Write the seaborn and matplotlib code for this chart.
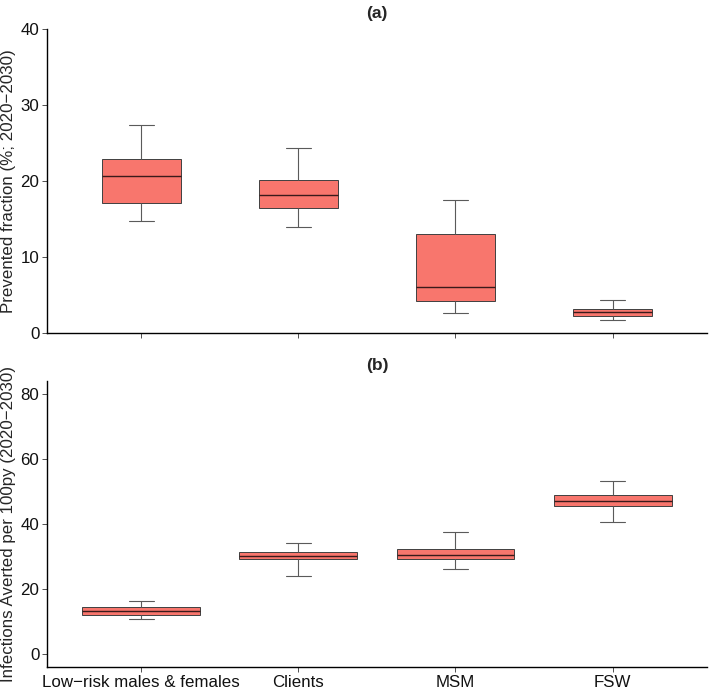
import pandas as pd
import matplotlib
matplotlib.use("Agg")
import matplotlib.pyplot as plt
import seaborn as sns

# Groups and five-number summaries (min, Q1, median, Q3, max)
groups = ["Low\u2212risk males & females", "Clients", "MSM", "FSW"]

prevented_low_risk = [14.7, 17.1, 20.6, 22.9, 27.4]
prevented_clients = [14.0, 16.5, 18.2, 20.1, 24.4]
prevented_msm = [2.6, 4.2, 6.1, 13.0, 17.5]
prevented_fsw = [1.7, 2.3, 2.8, 3.2, 4.3]

averted_low_risk = [10.7, 12.0, 13.2, 14.4, 16.4]
averted_clients = [24.0, 29.3, 30.3, 31.4, 34.2]
averted_msm = [26.2, 29.1, 30.6, 32.4, 37.6]
averted_fsw = [40.6, 45.4, 47.2, 48.9, 53.1]


def to_frame(series):
    rows = []
    for g, vals in zip(groups, series):
        for v in vals:
            rows.append({"group": g, "value": v})
    return pd.DataFrame(rows)


df_a = to_frame([prevented_low_risk, prevented_clients, prevented_msm, prevented_fsw])
df_b = to_frame([averted_low_risk, averted_clients, averted_msm, averted_fsw])

sns.set_style("white")
plt.rcParams["font.family"] = ["Liberation Sans", "DejaVu Sans"]

fig = plt.figure(figsize=(7.09, 6.92), dpi=100)
ax_a = fig.add_axes([0.0663, 0.5188, 0.9307, 0.4392])
ax_b = fig.add_axes([0.0663, 0.0361, 0.9307, 0.4133])

fill = "#F8766D"
edge = "#404040"
box_kws = dict(
    whis=(0, 100),
    color=fill,
    saturation=1,
    linecolor=edge,
    linewidth=0.7,
    showfliers=False,
    whiskerprops=dict(color="#5a5a5a", linewidth=0.8),
    capprops=dict(color="#5a5a5a", linewidth=0.8),
    medianprops=dict(color="#3a1a1a", linewidth=1.0),
    capwidths=0.16,
)

sns.boxplot(data=df_a, x="group", y="value", ax=ax_a, width=0.5, **box_kws)
sns.boxplot(data=df_b, x="group", y="value", ax=ax_b, width=0.75, **box_kws)

for ax in (ax_a, ax_b):
    ax.set_xlim(-0.6, 3.6)
    ax.set_xlabel("")
    for side in ("top", "right"):
        ax.spines[side].set_visible(False)
    for side in ("left", "bottom"):
        ax.spines[side].set_color("black")
        ax.spines[side].set_linewidth(1.0)
    ax.tick_params(axis="both", which="both", direction="out", length=3.5,
                   width=0.6, color="#333333", labelsize=12.2,
                   labelcolor="#111111", pad=2, left=True, bottom=True)

ax_a.set_ylim(0, 40)
ax_a.set_yticks([0, 10, 20, 30, 40])
ax_a.set_xticklabels([])
ax_a.set_ylabel("Prevented fraction (%; 2020\u22122030)", fontsize=12.2, labelpad=3)
ax_a.set_title("(a)", fontweight="bold", fontsize=12.5, pad=8)

ax_b.set_ylim(-4, 84)
ax_b.set_yticks([0, 20, 40, 60, 80])
ax_b.set_ylabel("Infections Averted per 100py (2020\u22122030)", fontsize=12.2, labelpad=3)
ax_b.set_title("(b)", fontweight="bold", fontsize=12.5, pad=8)

fig.savefig("out.png", dpi=100, facecolor="white")
